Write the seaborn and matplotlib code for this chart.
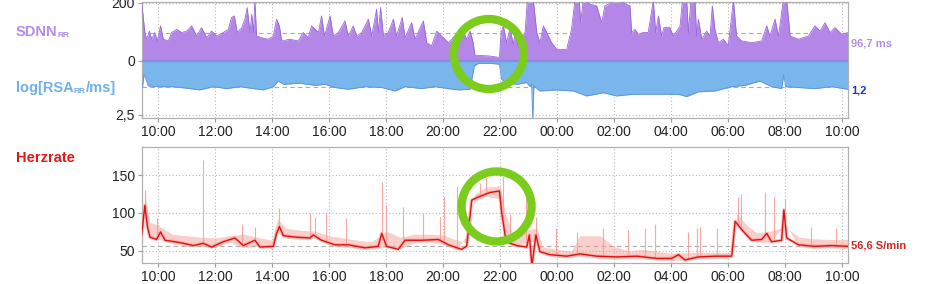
import matplotlib
matplotlib.use("Agg")
import numpy as np
import pandas as pd
import seaborn as sns
import matplotlib.pyplot as plt
from matplotlib.patches import Circle
from matplotlib.transforms import IdentityTransform

# ---------------- data (hours since midnight of day 1) ----------------
x_ticks = [10, 12, 14, 16, 18, 20, 22, 24, 26, 28, 30, 32, 34]
x_tick_labels = ["10:00", "12:00", "14:00", "16:00", "18:00", "20:00", "22:00",
                 "00:00", "02:00", "04:00", "06:00", "08:00", "10:00"]

sdnn_t = [9.43, 9.49, 9.54, 9.60, 9.70, 9.78, 9.89, 9.98, 10.09, 10.19, 10.36, 10.48,
          10.66, 10.83, 11.01, 11.18, 11.36, 11.53, 11.71, 11.88, 12.06, 12.29, 12.47,
          12.58, 12.68, 12.78, 12.94, 13.05, 13.13, 13.23, 13.29, 13.35, 13.40, 13.46,
          13.64, 13.87, 14.05, 14.16, 14.26, 14.34, 14.63, 14.92, 15.10, 15.27, 15.39,
          15.63, 15.74, 15.84, 16.04, 16.15, 16.33, 16.56, 16.68, 16.85, 16.97, 17.15,
          17.38, 17.50, 17.67, 17.73, 17.81, 17.91, 18.08, 18.26, 18.37, 18.57, 18.67,
          18.90, 19.02, 19.31, 19.43, 19.60, 19.78, 19.95, 20.19, 20.42, 20.65, 20.83,
          20.95, 21.06, 21.12, 21.65, 21.98, 22.04, 22.12, 22.23, 22.35, 22.47, 22.53,
          22.64, 22.76, 22.88, 22.96, 23.17, 23.29, 23.40, 23.52, 23.64, 23.81, 23.99,
          24.34, 24.51, 24.63, 24.78, 24.83, 24.92, 25.16, 25.39, 25.57, 25.68, 26.09,
          26.56, 26.62, 26.74, 26.85, 27.03, 27.20, 27.38, 27.46, 27.56, 27.67, 27.75,
          27.96, 28.08, 28.20, 28.32, 28.40, 28.55, 28.61, 28.70, 28.84, 28.90, 28.96,
          29.08, 29.25, 29.37, 29.45, 29.54, 29.66, 29.84, 30.01, 30.19, 30.30, 30.48,
          30.83, 31.18, 31.36, 31.47, 31.65, 31.77, 31.94, 32.06, 32.18, 32.47, 32.82,
          33.05, 33.23, 33.40, 33.58, 33.75, 33.99, 34.22]
sdnn_v = [200, 144, 98, 75, 103, 75, 98, 69, 121, 75, 69, 98,
          109, 98, 103, 121, 86, 115, 80, 103, 86, 98, 109,
          150, 155, 98, 115, 144, 184, 98, 161, 98, 210, 86,
          80, 75, 86, 144, 121, 69, 75, 69, 98, 80, 121,
          98, 155, 86, 155, 86, 98, 138, 86, 121, 86, 98,
          144, 86, 178, 98, 184, 86, 98, 144, 86, 150, 80,
          132, 75, 138, 63, 52, 103, 86, 63, 86, 115, 75,
          103, 63, 20, 17, 12, 98, 121, 63, 109, 58, 98,
          52, 75, 98, 210, 210, 98, 63, 121, 98, 63, 40,
          40, 109, 210, 210, 132, 210, 196, 190, 132, 190, 210,
          190, 98, 109, 92, 98, 98, 210, 98, 155, 86, 115,
          115, 86, 103, 121, 210, 210, 98, 210, 210, 86, 144,
          75, 103, 86, 190, 109, 63, 75, 52, 210, 86, 69,
          63, 69, 121, 86, 144, 86, 210, 210, 86, 75, 86,
          121, 103, 132, 98, 115, 92, 98]

rsa_t = [9.37, 9.46, 9.51, 9.58, 9.66, 10.07, 10.54, 11.12, 11.47, 11.94, 12.41, 12.88,
         13.35, 13.70, 14.05, 14.22, 14.40, 14.98, 15.51, 15.86, 16.21, 16.68, 17.26,
         17.85, 18.32, 18.67, 19.25, 19.72, 20.19, 20.54, 20.95, 21.10, 21.24, 21.65,
         21.98, 22.06, 22.18, 22.58, 22.94, 23.05, 23.11, 23.15, 23.19, 23.40, 23.99,
         24.57, 25.04, 25.63, 26.09, 26.68, 27.26, 27.79, 28.26, 28.55, 28.96, 29.54,
         30.13, 30.60, 31.12, 31.53, 31.88, 31.96, 32.02, 32.47, 33.05, 33.63, 34.22]
rsa_v = [1.13, 1.19, 0.62, 0.85, 1.16, 1.19, 1.19, 1.28, 1.34, 1.19, 1.28, 1.19,
         1.28, 1.34, 1.19, 0.93, 1.08, 1.03, 1.13, 1.08, 1.23, 1.31, 1.19,
         1.23, 1.39, 1.19, 1.28, 1.19, 1.28, 1.34, 1.31, 0.23, 0.11, 0.11,
         0.15, 0.85, 1.00, 1.08, 1.00, 1.19, 1.08, 2.70, 1.16, 1.39, 1.34,
         1.39, 1.62, 1.47, 1.62, 1.54, 1.54, 1.54, 1.54, 1.65, 1.43, 1.39,
         1.19, 1.13, 0.93, 1.19, 1.28, 0.62, 1.19, 1.23, 1.28, 1.19, 1.31]

hr_t = [9.37, 9.46, 9.54, 9.63, 9.72, 9.95, 10.09, 10.25, 10.77, 11.24, 11.59, 11.88,
        12.29, 12.70, 12.99, 13.40, 13.58, 14.05, 14.16, 14.26, 14.40, 14.87, 15.33,
        15.45, 15.74, 16.21, 16.68, 17.26, 17.73, 17.85, 18.02, 18.43, 18.67, 19.25,
        19.84, 20.19, 20.65, 20.83, 21.01, 21.24, 21.65, 21.98, 22.06, 22.12, 22.21,
        22.58, 22.94, 23.03, 23.12, 23.26, 23.40, 23.75, 24.34, 24.81, 25.39, 26.09,
        26.80, 27.50, 28.02, 28.26, 28.49, 28.96, 29.54, 30.13, 30.25, 30.48, 30.83,
        31.18, 31.36, 31.53, 31.88, 31.96, 32.06, 32.47, 33.05, 33.63, 34.22]
hr_v = [56, 82, 110, 82, 68, 65, 75, 64, 61, 57, 60, 55,
        62, 67, 57, 64, 55, 56, 73, 82, 70, 68, 67,
        71, 64, 58, 58, 54, 56, 73, 56, 52, 64, 64,
        65, 58, 52, 56, 117, 121, 127, 129, 100, 86, 62,
        57, 55, 71, 30, 71, 49, 45, 43, 46, 43, 42,
        43, 40, 40, 45, 38, 42, 43, 43, 89, 78, 64,
        65, 73, 62, 64, 104, 67, 58, 56, 57, 56]

hr_raw_t = [9.40, 9.55, 9.70, 10.00, 10.50, 11.00, 11.50, 12.00, 12.50, 13.00, 13.50,
            14.00, 14.20, 14.50, 15.00, 15.50, 16.00, 17.00, 17.50, 18.00, 18.50, 19.00,
            19.50, 20.00, 20.50, 20.90, 21.10, 21.50, 22.00, 22.20, 22.50, 23.00, 23.30,
            23.50, 24.00, 24.50, 24.80, 25.50, 26.00, 26.50, 27.00, 28.00, 29.00, 30.00,
            30.20, 30.30, 30.60, 31.00, 31.50, 32.00, 32.50, 33.00, 33.50, 34.22]
hr_raw_v = [60, 125, 88, 84, 72, 70, 68, 67, 70, 72, 68,
            64, 92, 80, 77, 76, 70, 64, 62, 76, 68, 72,
            72, 71, 64, 60, 124, 134, 136, 98, 66, 78, 80,
            55, 52, 50, 70, 70, 56, 50, 52, 47, 48, 48,
            48, 100, 86, 74, 76, 82, 68, 66, 65, 65]

spike_t = [9.55, 9.98, 11.58, 12.95, 13.42, 14.25, 15.33, 15.50, 15.90, 16.60, 17.85,
           18.00, 18.60, 19.30, 19.90, 20.05, 20.50, 21.30, 21.50, 22.10, 22.35, 22.90,
           23.25, 23.95, 24.70, 25.60, 26.50, 27.10, 27.45, 28.60, 28.90, 29.00, 29.60,
           30.35, 30.45, 31.30, 31.60, 32.00, 32.90, 33.80]
spike_v = [130, 93, 170, 85, 82, 107, 100, 95, 100, 93, 141,
           110, 108, 100, 95, 121, 135, 140, 148, 148, 98, 121,
           95, 80, 75, 80, 78, 80, 85, 75, 80, 82, 80,
           121, 125, 128, 121, 119, 82, 80]

sdnn_mean = 96.7
rsa_mean = 1.2
hr_mean = 56.6
sdnn_label = "96,7 ms"
rsa_label = "1,2"
hr_label = "56,6 S/min"

# annotation circles (data coordinates of centers)
circle_top = (21.61, 24.0)
circle_bot = (21.88, 108.6)

# ---------------- style ----------------
sns.set_theme(style="white")
plt.rcParams['font.family'] = ['Liberation Sans', 'DejaVu Sans']

W, H = 945, 284
fig = plt.figure(figsize=(W / 100, H / 100), dpi=100)
ax1 = fig.add_axes([142 / W, 1 - 118 / H, 706 / W, 116.5 / H])
ax2 = fig.add_axes([142 / W, 1 - 263 / H, 706 / W, 116 / H])

PURPLE = "#b386e8"
PURPLE_D = "#9868d8"
BLUE = "#79b6ec"
BLUE_D = "#5a8fe0"
RED = "#dd1111"
LRED = "#f4a098"
GREEN = "#7ccc1e"

K = 200 * 54 / (2.5 * 58)  # scale of the log[RSA] half of the top panel

xmin, xmax = 9.44, 34.21

# ---- top panel ----
sd = pd.DataFrame({"t": sdnn_t, "v": sdnn_v})
rs = pd.DataFrame({"t": rsa_t, "v": -np.array(rsa_v) * K})
ax1.fill_between(sd["t"], 0, sd["v"], color=PURPLE, lw=0, zorder=2)
sns.lineplot(data=sd, x="t", y="v", ax=ax1, color=PURPLE_D, lw=0.6, estimator=None, sort=False, zorder=3)
ax1.fill_between(rs["t"], 0, rs["v"], color=BLUE, lw=0, zorder=2)
sns.lineplot(data=rs, x="t", y="v", ax=ax1, color=BLUE_D, lw=0.6, estimator=None, sort=False, zorder=3)
ax1.axhline(0, color="#8b8be4", lw=1.6, zorder=4)
ax1.axhline(sdnn_mean, color="#aaaaaa", lw=0.8, ls=(0, (4, 3)), zorder=1)
ax1.axhline(-rsa_mean * K, color="#aaaaaa", lw=0.8, ls=(0, (4, 3)), zorder=1)
ax1.set_ylim(-196.6, 205)
ax1.set_yticks([200, 0, -2.5 * K])
ax1.set_yticklabels(["200", "0", "2,5"])

# ---- bottom panel ----
hr = pd.DataFrame({"t": hr_t, "v": hr_v})
raw = pd.DataFrame({"t": hr_raw_t, "v": hr_raw_v})
hr_on_raw = np.interp(raw["t"], hr["t"], hr["v"])
ax2.fill_between(raw["t"], hr_on_raw - 3, raw["v"], color=LRED, alpha=0.5, lw=0, zorder=2)
ax2.vlines(spike_t, np.interp(spike_t, hr["t"], hr["v"]), spike_v, color=LRED, lw=0.8, alpha=0.9, zorder=2)
sns.lineplot(data=hr, x="t", y="v", ax=ax2, color=LRED, lw=2.5, alpha=0.6, estimator=None, sort=False, zorder=3)
sns.lineplot(data=hr, x="t", y="v", ax=ax2, color=RED, lw=1.0, estimator=None, sort=False, zorder=4)
ax2.axhline(hr_mean, color="#aaaaaa", lw=0.8, ls=(0, (4, 3)), zorder=1)
ax2.set_ylim(34, 187)
ax2.set_yticks([50, 100, 150])
ax2.set_yticklabels(["50", "100", "150"])

for ax in (ax1, ax2):
    ax.set_xlim(xmin, xmax)
    ax.set_xticks(x_ticks)
    ax.set_xticklabels(x_tick_labels)
    ax.set_xlabel("")
    ax.set_ylabel("")
    ax.set_axisbelow(True)
    ax.grid(True, ls=(0, (1, 2)), color="#b8b8b8", lw=0.8, zorder=0)
    for s in ax.spines.values():
        s.set_color("#b0b0b0")
        s.set_linewidth(0.9)
    ax.tick_params(axis="both", which="major", direction="out", length=3, width=0.8,
                   color="#999999", labelsize=10, labelcolor="#222222", pad=2,
                   bottom=True, left=True)

# right-hand value labels
ax1.text(1.004, sdnn_mean - 38, sdnn_label, transform=ax1.get_yaxis_transform(),
         color="#b48cec", fontsize=8, fontweight="bold", va="center", ha="left", clip_on=False)
ax1.text(1.004, -rsa_mean * K - 12, rsa_label, transform=ax1.get_yaxis_transform(),
         color="#2233cc", fontsize=8, fontweight="bold", va="center", ha="left", clip_on=False)
ax2.text(1.004, hr_mean, hr_label, transform=ax2.get_yaxis_transform(),
         color="#dd2222", fontsize=8, fontweight="bold", va="center", ha="left", clip_on=False)

# left-hand series labels with subscripts
fig.canvas.draw()
renderer = fig.canvas.get_renderer()


def label(parts, x_px, base_px, color):
    x = x_px
    for txt, sub in parts:
        t = fig.text(x / W, 1 - (base_px + (1 if sub else 0)) / H, txt, color=color,
                     fontsize=6 if sub else 10.5, fontweight="bold", va="baseline", ha="left")
        x += t.get_window_extent(renderer).width


label([("SDNN", False), ("RR", True)], 16, 36, "#b48cec")
label([("log[RSA", False), ("RR", True), ("/ms]", False)], 16, 92, "#6fb0ea")
label([("Herzrate", False)], 16, 161.5, "#dd1a1a")

# green annotation circles
for ax, c in ((ax1, circle_top), (ax2, circle_bot)):
    cx, cy = ax.transData.transform(c)
    fig.add_artist(Circle((cx, cy), radius=35, transform=IdentityTransform(), fill=False,
                          edgecolor=GREEN, lw=6, zorder=10))

fig.savefig("out.png", dpi=100)
